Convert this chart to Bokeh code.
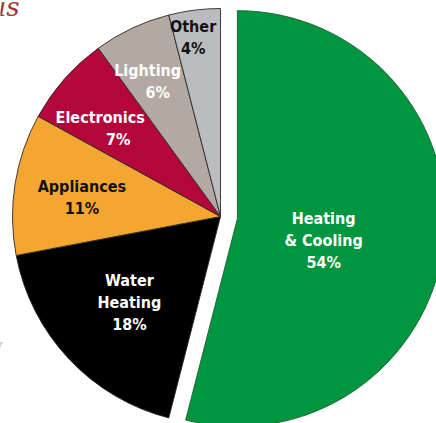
import math
from bokeh.plotting import figure
from bokeh.models import Range1d
from bokeh.core.properties import value
from bokeh.embed import file_html
from bokeh.resources import INLINE

# ---- data ----
categories = ["Heating\n& Cooling", "Water\nHeating", "Appliances", "Electronics", "Lighting", "Other"]
shares = [54, 18, 11, 7, 6, 4]
colors = ["#00963F", "#000000", "#F5A631", "#B5063C", "#B3A9A2", "#BBBCBF"]
text_colors = ["white", "white", "#111111", "white", "white", "#111111"]

# ---- layout (styles) ----
W, H = 436, 423
cx, cy = 220, H - 216
R = 208
explode = [17, 0, 0, 0, 0, 0]
label_dist = [89, 125, 140, 142, 151, 181]
label_ang_adj = [-7, 0, 1, 3, 1.5, 1.5]
line_dx = [[0, 0, 0], [0, 0, 0], [0, 0], [-9, 9], [-5, 5], [0, 0]]
line_h = 22
FONT = "'DejaVu Sans Condensed', Roboto, sans-serif"

p = figure(width=W, height=H, output_backend="svg", toolbar_location=None,
           x_range=Range1d(0, W), y_range=Range1d(0, H),
           min_border=0, outline_line_color=None)
p.axis.visible = False
p.grid.visible = False
p.background_fill_color = "white"
p.border_fill_color = "white"

total = sum(shares)
cum = 0.0
for i, (cat, s) in enumerate(zip(categories, shares)):
    a0 = 90 - 360 * cum / total
    cum += s
    a1 = 90 - 360 * cum / total
    mid = math.radians((a0 + a1) / 2)
    ox = cx + explode[i] * math.cos(mid)
    oy = cy + explode[i] * math.sin(mid)
    p.wedge(x=[ox], y=[oy], radius=R, start_angle=[math.radians(a1)], end_angle=[math.radians(a0)],
            fill_color=colors[i], line_color="#2a2a2a" if i else "#1f5f35",
            line_width=0.9)
    # labels
    la = mid + math.radians(label_ang_adj[i])
    lx = ox + label_dist[i] * math.cos(la)
    ly = oy + label_dist[i] * math.sin(la)
    lines = cat.split("\n") + [f"{s}%"]
    n = len(lines)
    for j, t in enumerate(lines):
        yy = ly + (n - 1) / 2 * line_h - j * line_h
        p.text(x=[lx + line_dx[i][j]], y=[yy], text=[t], text_color=text_colors[i],
               text_font=value(FONT), text_font_style="bold", text_font_size="16px",
               text_align="center", text_baseline="middle")

# cropped title fragment and side mark
p.text(x=[19], y=[H - 6], text=["us"], text_color="#A3342A", text_font=value("DejaVu Serif"),
       text_font_style="italic", text_font_size="26px", text_align="right", text_baseline="alphabetic")
p.text(x=[-4], y=[H - 348], text=["/"], text_color="#999999", text_font=value("DejaVu Sans"),
       text_font_size="16px", text_align="left", text_baseline="middle")

open("out.html", "w").write(file_html(p, INLINE))
